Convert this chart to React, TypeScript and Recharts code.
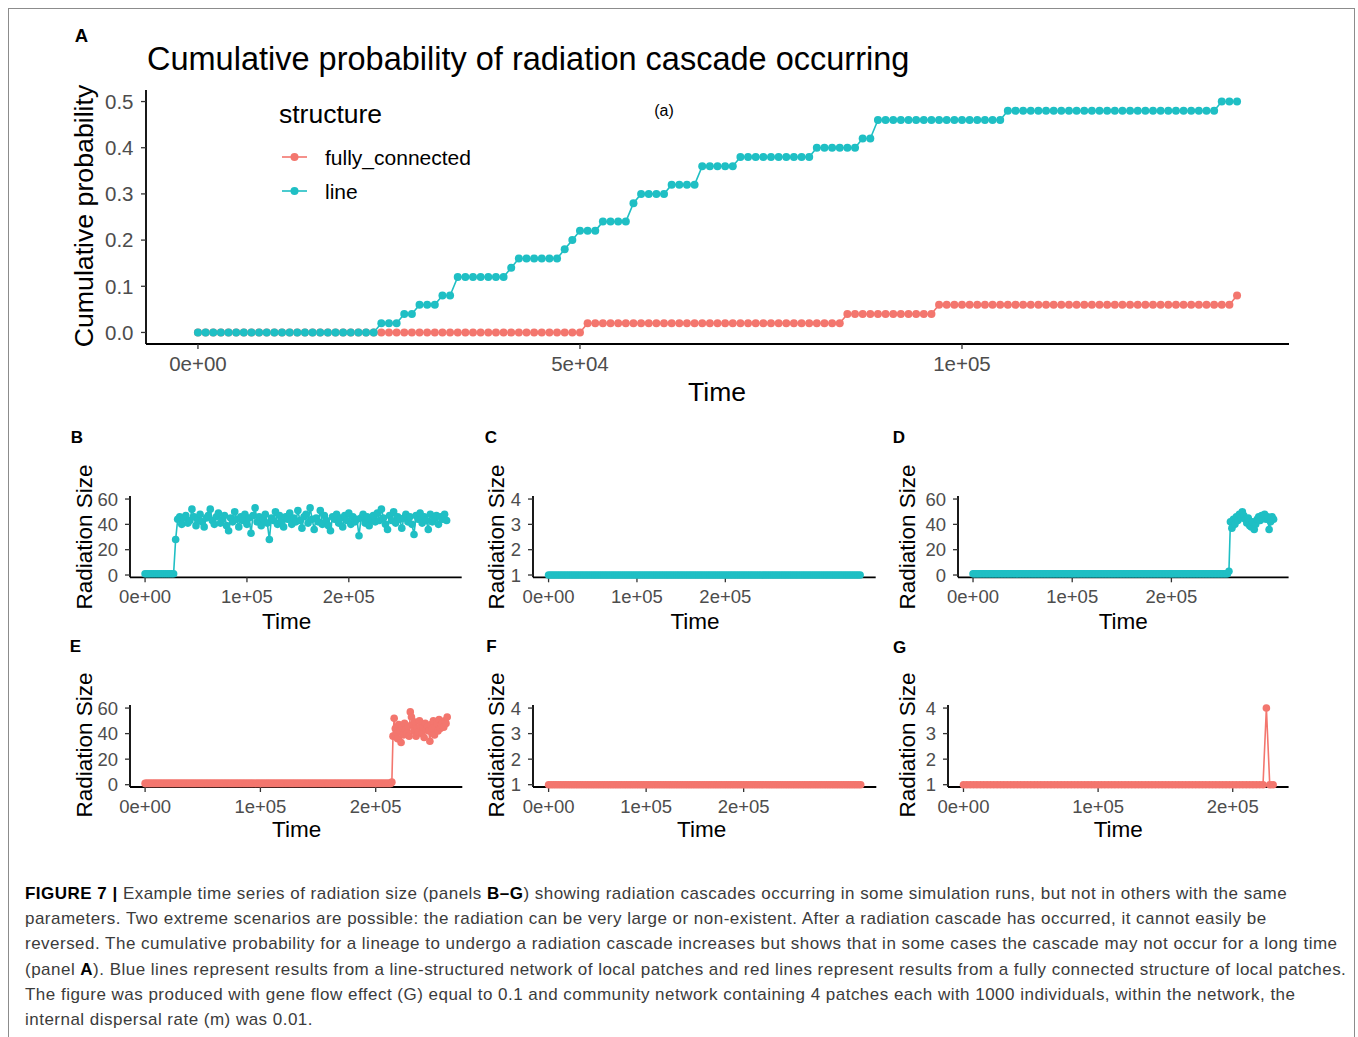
import React from 'react'
import { LineChart, Line, XAxis, YAxis } from 'recharts'

const TEAL = '#1FBFC4'
const RED = '#F3766E'
const FONT = "'Liberation Sans', Arial, sans-serif"

// expand run-length pairs [count, value]
const expand = (runs: [number, number][]) => runs.flatMap(([n, v]) => Array(n).fill(v))

// ---- panel A: cumulative probability, one point per 1000 time units
const A_STEP = 1000
const seriesNames = ['fully_connected', 'line']
const seriesColors = [RED, TEAL]
const fullyRuns: [number, number][] = [[51, 0], [34, 0.02], [12, 0.04], [39, 0.06], [1, 0.08]]
const lineRuns: [number, number][] = [
  [24, 0], [3, 0.02], [2, 0.04], [3, 0.06], [2, 0.08], [7, 0.12], [1, 0.14], [6, 0.16],
  [1, 0.18], [1, 0.2], [3, 0.22], [4, 0.24], [1, 0.28], [4, 0.3], [4, 0.32], [5, 0.36],
  [10, 0.38], [6, 0.4], [2, 0.42], [17, 0.46], [28, 0.48], [3, 0.5],
]
const aXTicks = [0, 50000, 100000]
const aXLabels = ['0e+00', '5e+04', '1e+05']
const aYTicks = [0, 0.1, 0.2, 0.3, 0.4, 0.5]
const aYLabels = ['0.0', '0.1', '0.2', '0.3', '0.4', '0.5']

// ---- panels B-G: radiation size over time
const smallXTicks = [0, 100000, 200000]
const smallXLabels = ['0e+00', '1e+05', '2e+05']
const bigYTicks = [0, 20, 40, 60]
const unitYTicks = [1, 2, 3, 4]

const B_STEP = 2000
const bHead: [number, number][] = [[15, 1], [1, 28]]
const bTail = [
  44, 46, 40, 45, 47, 41, 43, 52, 46, 39,
  44, 48, 42, 38, 45, 47, 52, 43, 40, 46,
  49, 41, 44, 47, 39, 35, 45, 42, 50, 44,
  38, 46, 43, 48, 40, 45, 33, 47, 53, 42,
  46, 39, 44, 48, 41, 28, 45, 43, 50, 40,
  47, 42, 38, 46, 44, 49, 40, 45, 42, 51,
  43, 37, 46, 48, 41, 53, 44, 36, 45, 42,
  51, 40, 47, 43, 39, 35, 46, 44, 48, 41,
  45, 38, 47, 43, 49, 40, 46, 42, 44, 31,
  45, 48, 41, 46, 39, 44, 47, 42, 49, 43,
  52, 45, 40, 36, 47, 43, 50, 41, 46, 44,
  37, 45, 48, 42, 46, 40, 32, 47, 44, 49,
  41, 46, 43, 36, 48, 42, 45, 47, 40, 46,
  44, 48, 43,
]
const C_STEP = 2500
const cRuns: [number, number][] = [[142, 1]]
const D_STEP = 1500
const dHead: [number, number][] = [[172, 1], [1, 3]]
const dTail = [
  42, 37, 44, 40, 46, 43, 48, 45, 50, 47, 44, 41, 45, 39, 38,
  42, 36, 40, 44, 46, 43, 47, 45, 48, 44, 46, 36, 42, 46, 44,
]
const E_STEP = 1000
const eHead: [number, number][] = [[214, 1], [1, 2], [1, 38]]
const eTail = [
  52, 44, 40, 36, 47, 42, 33, 45, 39, 48,
  43, 40, 46, 38, 57, 53, 47, 42, 49, 38,
  44, 41, 50, 46, 40, 45, 37, 48, 43, 46,
  42, 34, 47, 44, 50, 39, 45, 48, 42, 51,
  44, 47, 49, 45, 50, 48, 53,
]
const F_STEP = 2500
const fRuns: [number, number][] = [[129, 1]]
const G_STEP = 2500
const gRuns: [number, number][] = [[90, 1], [1, 4], [2, 1]]

const toRows = (values: number[], step: number) => values.map((v, i) => ({ time: i * step, size: v }))

const aFully = expand(fullyRuns)
const aLine = expand(lineRuns)
const aData = aLine.map((v, i) => ({ time: i * A_STEP, fully_connected: aFully[i], line: v }))

type Box = { l: number; t: number; r: number; b: number }

const Txt: React.FC<{ x: number; y: number; size: number; bold?: boolean; rotate?: boolean; left?: boolean; color?: string; children: React.ReactNode }> = ({ x, y, size, bold, rotate, left, color, children }) => (
  <div
    style={{
      position: 'absolute', left: x, top: y, fontSize: size, lineHeight: 1, whiteSpace: 'nowrap',
      fontWeight: bold ? 700 : 400, color: color || '#000', fontFamily: FONT,
      transform: `translate(${left ? '0' : '-50%'}, -50%)${rotate ? ' rotate(-90deg)' : ''}`,
    }}
  >
    {children}
  </div>
)

const axisLine = { stroke: '#000', strokeWidth: 1.8 }
const tickLine = { stroke: '#333', strokeWidth: 1.3 }

const SmallPanel: React.FC<{ rows: { time: number; size: number }[]; color: string; box: Box; yDomain: number[]; yTicks: number[] }> = ({ rows, color, box, yDomain, yTicks }) => {
  const maxT = rows[rows.length - 1].time
  const w = box.r - box.l
  const h = box.b - box.t
  return (
    <div style={{ position: 'absolute', left: box.l - 60, top: box.t - 10 }}>
      <LineChart width={w + 70} height={h + 50} data={rows} margin={{ top: 10, right: 10, left: 0, bottom: 0 }}>
        <XAxis
          dataKey='time' type='number' domain={[-0.05 * maxT, 1.05 * maxT]} ticks={smallXTicks} interval={0}
          tickFormatter={(v) => smallXLabels[smallXTicks.indexOf(v)]} height={40}
          axisLine={axisLine} tickLine={tickLine} tickSize={5} tickMargin={7.5}
          tick={{ fill: '#4D4D4D', fontSize: 18.5, fontFamily: FONT }}
        />
        <YAxis
          type='number' domain={yDomain} ticks={yTicks} interval={0} width={60}
          axisLine={axisLine} tickLine={tickLine} tickSize={5} tickMargin={7}
          tick={{ fill: '#4D4D4D', fontSize: 18.5, fontFamily: FONT }}
        />
        <Line dataKey='size' stroke={color} strokeWidth={1.6} dot={{ r: 3.8, fill: color, stroke: 'none' }} activeDot={false} isAnimationActive={false} />
      </LineChart>
    </div>
  )
}

const BIG_Y = [-1.8, 62.4]
const UNIT_Y = [0.91, 4.12]

const captionLines: React.ReactNode[] = [
  <><b style={{ color: '#000' }}>FIGURE 7 |</b> Example time series of radiation size (panels <b style={{ color: '#000' }}>B–G</b>) showing radiation cascades occurring in some simulation runs, but not in others with the same</>,
  <>parameters. Two extreme scenarios are possible: the radiation can be very large or non-existent. After a radiation cascade has occurred, it cannot easily be</>,
  <>reversed. The cumulative probability for a lineage to undergo a radiation cascade increases but shows that in some cases the cascade may not occur for a long time</>,
  <>(panel <b style={{ color: '#000' }}>A</b>). Blue lines represent results from a line-structured network of local patches and red lines represent results from a fully connected structure of local patches.</>,
  <>The figure was produced with gene flow effect (G) equal to 0.1 and community network containing 4 patches each with 1000 individuals, within the network, the</>,
  <>internal dispersal rate (m) was 0.01.</>,
]

const App: React.FC = () => {
  const aBox: Box = { l: 146, t: 89.5, r: 1289, b: 343.5 }
  const aMax = aData[aData.length - 1].time
  return (
    <div style={{ position: 'absolute', left: 0, top: 0, width: 1358, height: 1037, overflow: 'hidden', background: '#fff', fontFamily: FONT }}>
      <div style={{ position: 'absolute', left: 8, top: 8, width: 1347, height: 1200, border: '1.5px solid #8c8c8c', boxSizing: 'border-box' }} />

      {/* panel A */}
      <Txt x={81.5} y={36} size={18.5} bold>A</Txt>
      <Txt x={147} y={59} size={32.5} left>Cumulative probability of radiation cascade occurring</Txt>
      <div style={{ position: 'absolute', left: aBox.l - 70, top: aBox.t - 10 }}>
        <LineChart width={aBox.r - aBox.l + 80} height={aBox.b - aBox.t + 50} data={aData} margin={{ top: 10, right: 10, left: 0, bottom: 0 }}>
          <XAxis
            dataKey='time' type='number' domain={[-0.05 * aMax, 1.05 * aMax]} ticks={aXTicks} interval={0}
            tickFormatter={(v) => aXLabels[aXTicks.indexOf(v)]} height={40}
            axisLine={axisLine} tickLine={tickLine} tickSize={5} tickMargin={7}
            tick={{ fill: '#4D4D4D', fontSize: 20.5, fontFamily: FONT }}
          />
          <YAxis
            type='number' domain={[-0.025, 0.525]} ticks={aYTicks} interval={0} width={70}
            tickFormatter={(v) => aYLabels[aYTicks.indexOf(v)]}
            axisLine={axisLine} tickLine={tickLine} tickSize={5} tickMargin={7.5}
            tick={{ fill: '#4D4D4D', fontSize: 20.5, fontFamily: FONT }}
          />
          {seriesNames.map((name, i) => (
            <Line key={name} dataKey={name} stroke={seriesColors[i]} strokeWidth={1.6} dot={{ r: 4, fill: seriesColors[i], stroke: 'none' }} activeDot={false} isAnimationActive={false} />
          ))}
        </LineChart>
      </div>
      <Txt x={84} y={216} size={26.7} rotate>Cumulative probability</Txt>
      <Txt x={717} y={392} size={26.5}>Time</Txt>
      <Txt x={664} y={111} size={16}>(a)</Txt>
      <Txt x={279} y={114} size={26.5} left>structure</Txt>
      {seriesNames.map((name, i) => (
        <React.Fragment key={name}>
          <svg style={{ position: 'absolute', left: 280, top: 147 + i * 33.5 }} width={30} height={20}>
            <line x1={2} y1={10} x2={27} y2={10} stroke={seriesColors[i]} strokeWidth={1.6} />
            <circle cx={14.5} cy={10} r={4} fill={seriesColors[i]} />
          </svg>
          <Txt x={325} y={157 + i * 33.5} size={21} left>{name}</Txt>
        </React.Fragment>
      ))}

      {/* panels B-G */}
      <Txt x={77} y={436.7} size={17} bold>B</Txt>
      <Txt x={491} y={436.7} size={17} bold>C</Txt>
      <Txt x={899} y={436.7} size={17} bold>D</Txt>
      <Txt x={75.5} y={646} size={17} bold>E</Txt>
      <Txt x={491.5} y={646} size={17} bold>F</Txt>
      <Txt x={899.5} y={646.5} size={17} bold>G</Txt>

      <SmallPanel rows={toRows([...expand(bHead), ...bTail], B_STEP)} color={TEAL} box={{ l: 130, t: 496, r: 461.7, b: 577.3 }} yDomain={BIG_Y} yTicks={bigYTicks} />
      <SmallPanel rows={toRows(expand(cRuns), C_STEP)} color={TEAL} box={{ l: 533.3, t: 496, r: 876, b: 577.3 }} yDomain={UNIT_Y} yTicks={unitYTicks} />
      <SmallPanel rows={toRows([...expand(dHead), ...dTail], D_STEP)} color={TEAL} box={{ l: 957.7, t: 496, r: 1288.3, b: 577.3 }} yDomain={BIG_Y} yTicks={bigYTicks} />
      <SmallPanel rows={toRows([...expand(eHead), ...eTail], E_STEP)} color={RED} box={{ l: 130, t: 704.5, r: 462.3, b: 786.5 }} yDomain={BIG_Y} yTicks={bigYTicks} />
      <SmallPanel rows={toRows(expand(fRuns), F_STEP)} color={RED} box={{ l: 532.7, t: 704.5, r: 876, b: 786.5 }} yDomain={UNIT_Y} yTicks={unitYTicks} />
      <SmallPanel rows={toRows(expand(gRuns), G_STEP)} color={RED} box={{ l: 947.7, t: 704.5, r: 1288.3, b: 786.5 }} yDomain={UNIT_Y} yTicks={unitYTicks} />

      {[85, 496.7, 908.3].map((x) => <Txt key={'r1' + x} x={x} y={536.7} size={22.5} rotate>Radiation Size</Txt>)}
      {[85, 496.7, 908.3].map((x) => <Txt key={'r2' + x} x={x} y={745} size={22.5} rotate>Radiation Size</Txt>)}
      {[286.7, 695, 1123.3].map((x) => <Txt key={'t1' + x} x={x} y={621.7} size={22.5}>Time</Txt>)}
      {[296.7, 701.7, 1118.3].map((x) => <Txt key={'t2' + x} x={x} y={830} size={22.5}>Time</Txt>)}

      {/* caption */}
      {captionLines.map((line, i) => (
        <div key={i} style={{ position: 'absolute', left: 25, top: 893 + i * 25.2, transform: 'translateY(-50%)', fontSize: 17, letterSpacing: 0.48, lineHeight: 1, whiteSpace: 'nowrap', color: '#3b3b3b', fontFamily: FONT }}>
          {line}
        </div>
      ))}
    </div>
  )
}

export default App
